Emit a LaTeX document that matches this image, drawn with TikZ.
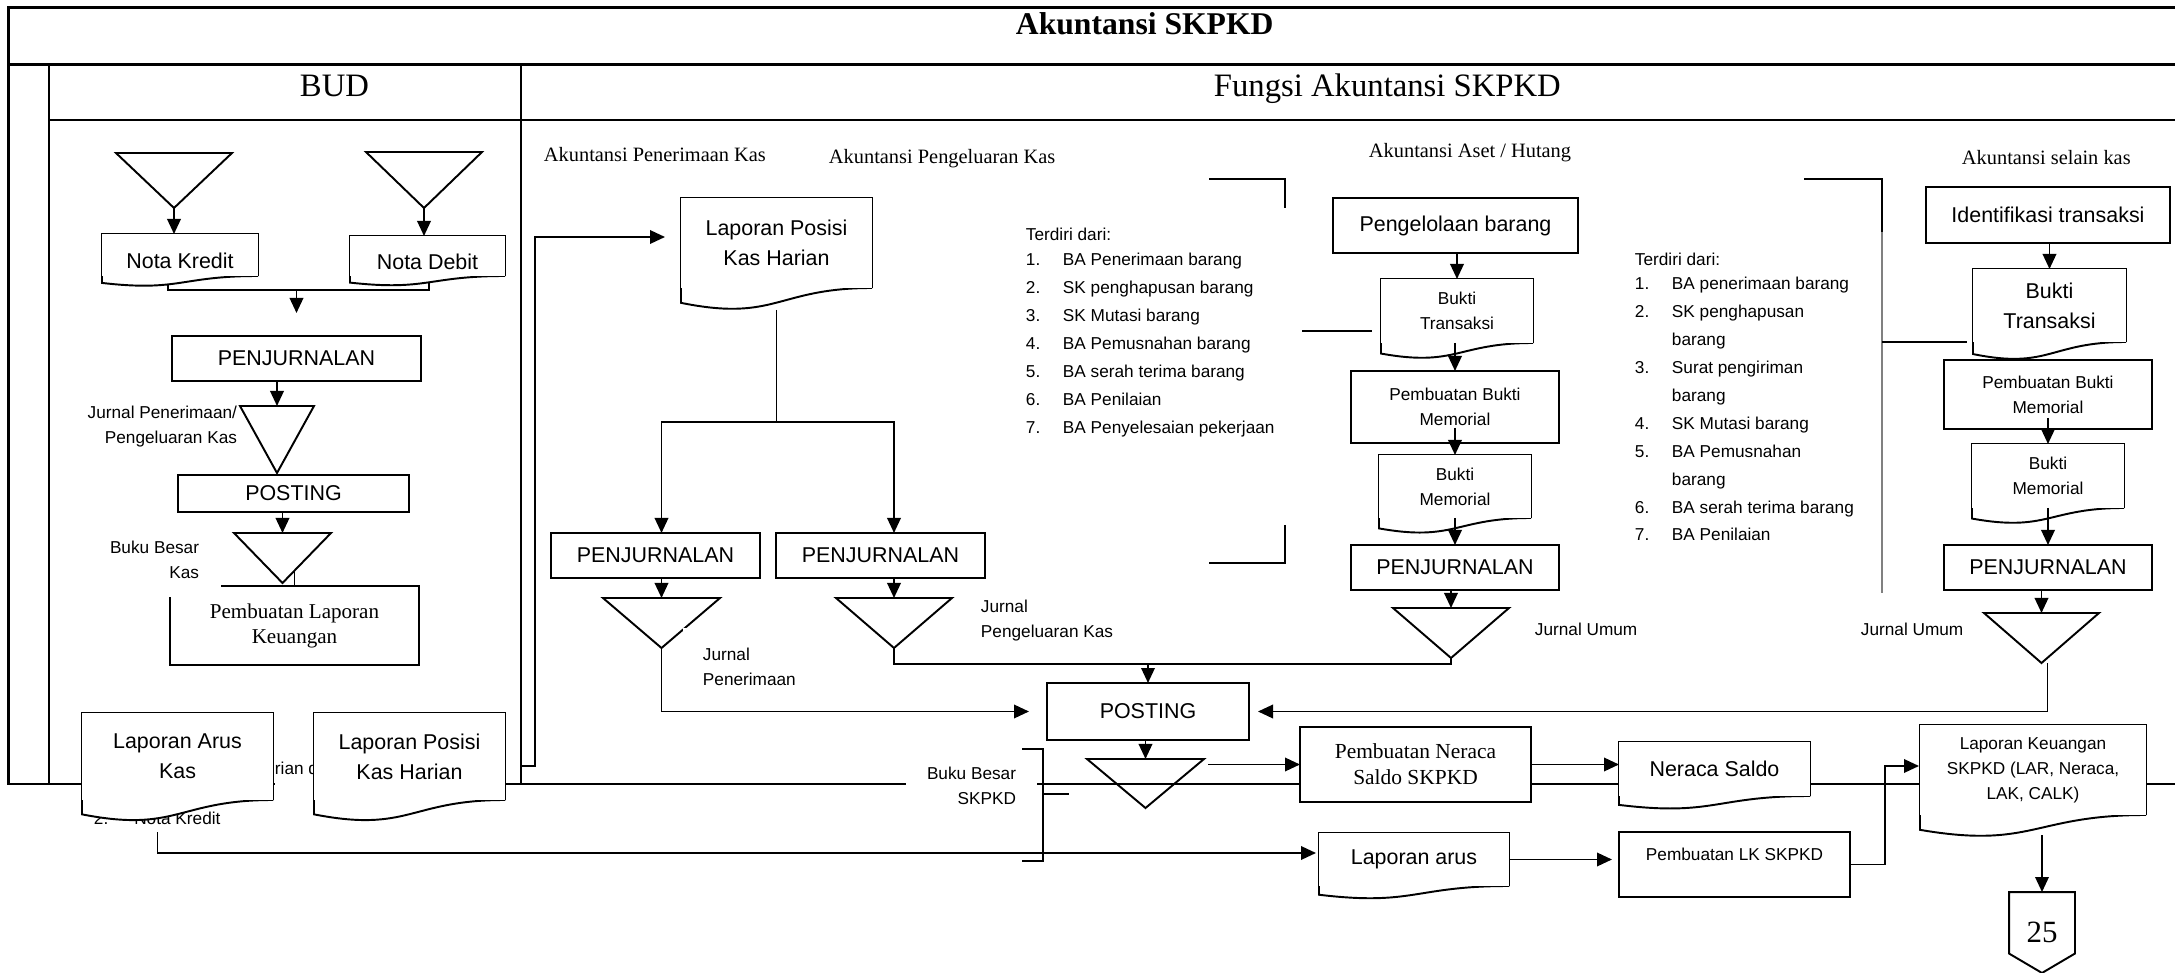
\documentclass[tikz,border=0pt]{standalone}
\usepackage{fontspec}
\setmainfont{Liberation Serif}
\setsansfont{Liberation Sans}
\usetikzlibrary{arrows.meta, calc, shapes.geometric}

\begin{document}
\begin{tikzpicture}[
  every path/.style = {
    line width = 0.55pt
  },
  frame/.style = {
    line width = 0.75pt
  },
  head/.style = {
    inner sep = 0pt,
    anchor = base west
  },
  colhead/.style = {
    head,
    font = \rmfamily\fontsize{5.8}{7}\selectfont
  },
  bigtext/.style = {
    font = \sffamily\fontsize{6.1}{8.5}\selectfont
  },
  smalltext/.style = {
    font = \sffamily\fontsize{4.9}{7.1}\selectfont,
    inner sep = 0pt
  },
  listtext/.style = {
    font = \sffamily\fontsize{4.9}{7.95}\selectfont,
    align = left,
    anchor = north west,
    inner sep = 0pt
  },
  box/.style = {
    draw,
    fill = white,
    align = center,
    inner sep = 0pt,
    outer sep = 0pt
  },
  doc/.style = {
    fill = white,
    align = center,
    inner sep = 0pt,
    outer sep = 0pt,
    append after command = {
      \pgfextra{
        \fill[white] (\tikzlastnode.south west) -- (\tikzlastnode.south east)
          .. controls (\tikzlastnode.south) and ($(\tikzlastnode.south)!-0.38!(\tikzlastnode.north)$)
          .. ($(\tikzlastnode.south west)!-0.165!(\tikzlastnode.north west)$) -- cycle;
        \draw (\tikzlastnode.south east) -- (\tikzlastnode.north east)
          -- (\tikzlastnode.north west)
          -- ($(\tikzlastnode.south west)!-0.165!(\tikzlastnode.north west)$)
          .. controls ($(\tikzlastnode.south)!-0.38!(\tikzlastnode.north)$) and (\tikzlastnode.south)
          .. (\tikzlastnode.south east);
      }
    }
  },
  merge/.style = {
    draw,
    shape = isosceles triangle,
    isosceles triangle stretches,
    shape border rotate = 270,
    inner sep = 0pt,
    outer sep = 0pt,
    anchor = north
  },
  flow/.style = {
    -{Triangle[length = 1.5mm, width = 1.35mm]}
  }
]
  \useasboundingbox (0, 0) rectangle (21.75, -9.73);

  \draw[frame] (21.75, -0.073) -- (0.086, -0.073) -- (0.086, -7.84) -- (21.75, -7.84);
  \draw[frame] (0.086, -0.643) -- (21.75, -0.643);
  \draw[frame] (0.49, -1.2) -- (21.75, -1.2);
  \draw[frame] (0.49, -0.643) -- (0.49, -7.84);
  \draw[frame] (5.21, -0.643) -- (5.21, -7.84);

  \node[head, font = \rmfamily\bfseries\fontsize{9}{11}\selectfont] (judul) at (10.15, -0.35) {Akuntansi SKPKD};
  \node[head, font = \rmfamily\fontsize{9.3}{11}\selectfont] (bud) at (2.99, -0.97) {BUD};
  \node[head, font = \rmfamily\fontsize{9.3}{11}\selectfont] (fungsi) at (12.13, -0.97) {Fungsi Akuntansi SKPKD};
  \node[colhead] (penerimaan) at (5.43, -1.62) {Akuntansi Penerimaan Kas};
  \node[colhead] (pengeluaran) at (8.28, -1.64) {Akuntansi Pengeluaran Kas};
  \node[colhead] (aset) at (13.68, -1.58) {Akuntansi Aset / Hutang};
  \node[colhead] (selain) at (19.61, -1.65) {Akuntansi selain kas};

  \node[merge, minimum width = 1.16cm, minimum height = 0.55cm] (kredittri) at (1.74, -1.53) {};
  \node[merge, minimum width = 1.16cm, minimum height = 0.56cm] (debittri) at (4.24, -1.52) {};
  \node[doc, bigtext, minimum width = 1.56cm, minimum height = 0.42cm, text height = 2.8mm] (kredit) at (1.8, -2.55) {Nota Kredit};
  \node[doc, bigtext, minimum width = 1.55cm, minimum height = 0.4cm, text height = 2.8mm] (debit) at (4.275, -2.56) {Nota Debit};
  \node[box, bigtext, minimum width = 2.49cm, minimum height = 0.45cm] (jurnalbud) at (2.965, -3.585) {PENJURNALAN};
  \node[merge, minimum width = 0.74cm, minimum height = 0.67cm] (jurnaltri) at (2.77, -4.06) {};
  \node[smalltext, align = right, anchor = east] (jurnallabel) at (2.38, -4.265) {Jurnal Penerimaan/\\Pengeluaran Kas};
  \node[box, bigtext, minimum width = 2.31cm, minimum height = 0.37cm] (postingbud) at (2.935, -4.935) {POSTING};
  \node[merge, minimum width = 0.97cm, minimum height = 0.5cm] (kastri) at (2.825, -5.33) {};
  \node[box, font = \rmfamily\fontsize{6}{7.1}\selectfont, minimum width = 2.49cm, minimum height = 0.79cm] (laporanbud) at (2.945, -6.255) {Pembuatan Laporan\\Keuangan};
  \node[smalltext, align = right, anchor = east, fill = white, inner xsep = 2.2mm, inner ysep = 1.9mm] (kaslabel) at (2.22, -5.595) {Buku Besar\\Kas};

  \draw[flow] (kredittri.south) -- (kredittri.south |- kredit.north);
  \draw[flow] (debittri.south) -- (debittri.south |- debit.north);
  \draw ([xshift = -1.2mm, yshift = -0.9mm]kredit.south) -- ++(0, -0.05) -| ([xshift = 0.15mm, yshift = -0.75mm]debit.south);
  \draw[flow] (jurnalbud.north) ++(0, 0.46) -- ++(0, -0.23);
  \draw[flow] (jurnalbud.south -| jurnaltri.north) -- (jurnaltri.north);
  \draw[flow] (postingbud.south -| kastri.north) -- (kastri.north);
  \draw (laporanbud.north) -- ++(0, 0.14);

  \node[smalltext, anchor = west] (kredit2) at (0.93, -8.18) {2.\hspace{2.6mm}Nota Kredit};
  \node[smalltext, anchor = west, fill = white, inner ysep = 1.5mm] (harian) at (2.74, -7.68) {rian d};
  \node[doc, bigtext, minimum width = 1.91cm, minimum height = 0.87cm] (aruskasbud) at (1.775, -7.565) {Laporan Arus\\Kas};
  \node[doc, bigtext, minimum width = 1.91cm, minimum height = 0.87cm] (posisibud) at (4.095, -7.565) {Laporan Posisi\\Kas Harian};

  \node[doc, bigtext, minimum width = 1.91cm, minimum height = 0.9cm] (posisi) at (7.765, -2.43) {Laporan Posisi\\Kas Harian};
  \coordinate (budout) at (5.21, -7.66);
  \coordinate (split) at (7.765, -4.22);
  \draw[flow] (budout) -- ++(0.14, 0) |- ([xshift = -1.6mm, yshift = 0.6mm]posisi.west);

  \node[box, bigtext, minimum width = 2.09cm, minimum height = 0.45cm] (terima) at (6.555, -5.555) {PENJURNALAN};
  \node[box, bigtext, minimum width = 2.09cm, minimum height = 0.45cm] (keluar) at (8.805, -5.555) {PENJURNALAN};
  \node[merge, minimum width = 1.17cm, minimum height = 0.5cm] (terimatri) at (6.615, -5.98) {};
  \node[merge, minimum width = 1.16cm, minimum height = 0.5cm] (keluartri) at (8.94, -5.98) {};
  \node[smalltext, align = left, anchor = north west, fill = white, inner sep = 2mm] (terimalabel) at (6.82, -6.27) {Jurnal\\Penerimaan};
  \node[smalltext, align = left, anchor = west] (keluarlabel) at (9.8, -6.205) {Jurnal\\Pengeluaran Kas};

  \draw ([yshift = -2.2mm]posisi.south) -- (split);
  \draw[flow] (split) -| (terimatri.north |- terima.north);
  \draw[flow] (split) -| (keluartri.north |- keluar.north);
  \draw[flow] (terima.south -| terimatri.north) -- (terimatri.north);
  \draw[flow] (keluar.south -| keluartri.north) -- (keluartri.north);

  \node[listtext] (listaset) at (10.25, -2.27) {Terdiri dari:\\[-0.85pt]
    \makebox[3.7mm][l]{1.}BA Penerimaan barang\\
    \makebox[3.7mm][l]{2.}SK penghapusan barang\\
    \makebox[3.7mm][l]{3.}SK Mutasi barang\\
    \makebox[3.7mm][l]{4.}BA Pemusnahan barang\\
    \makebox[3.7mm][l]{5.}BA serah terima barang\\
    \makebox[3.7mm][l]{6.}BA Penilaian\\
    \makebox[3.7mm][l]{7.}BA Penyelesaian pekerjaan};
  \draw (12.09, -1.79) -- (12.85, -1.79) -- (12.85, -2.08);
  \draw (12.85, -5.25) -- (12.85, -5.63) -- (12.09, -5.63);
  \draw (13.02, -3.31) -- (13.72, -3.31);

  \node[box, bigtext, minimum width = 2.45cm, minimum height = 0.55cm] (kelola) at (14.555, -2.255) {Pengelolaan barang};
  \node[doc, smalltext, minimum width = 1.52cm, minimum height = 0.64cm] (buktiaset) at (14.57, -3.11) {Bukti\\Transaksi};
  \node[box, smalltext, minimum width = 2.08cm, minimum height = 0.72cm] (memoaset) at (14.55, -4.07) {Pembuatan Bukti\\Memorial};
  \node[doc, smalltext, minimum width = 1.52cm, minimum height = 0.63cm] (bmaset) at (14.55, -4.865) {Bukti\\Memorial};
  \node[box, bigtext, minimum width = 2.08cm, minimum height = 0.45cm] (jurnalaset) at (14.55, -5.675) {PENJURNALAN};
  \node[merge, minimum width = 1.16cm, minimum height = 0.5cm] (asettri) at (14.51, -6.08) {};
  \node[smalltext, anchor = west] (umumaset) at (15.34, -6.29) {Jurnal Umum};

  \draw[flow] (kelola.south -| buktiaset.north) -- (buktiaset.north);
  \draw[flow] (buktiaset.south -| memoaset.north) -- (memoaset.north);
  \draw[flow] ([yshift = 1.5mm]memoaset.south) -- (bmaset.north);
  \draw[flow] (bmaset.south) -- (jurnalaset.north);
  \draw[flow] (jurnalaset.south -| asettri.north) -- (asettri.north);

  \node[listtext] (listlain) at (16.34, -2.52) {Terdiri dari:\\[-1.1pt]
    \makebox[3.7mm][l]{1.}BA penerimaan barang\\
    \makebox[3.7mm][l]{2.}SK penghapusan\\
    \makebox[3.7mm][l]{}barang\\
    \makebox[3.7mm][l]{3.}Surat pengiriman\\
    \makebox[3.7mm][l]{}barang\\
    \makebox[3.7mm][l]{4.}SK Mutasi barang\\
    \makebox[3.7mm][l]{5.}BA Pemusnahan\\
    \makebox[3.7mm][l]{}barang\\
    \makebox[3.7mm][l]{6.}BA serah terima barang\\
    \makebox[3.7mm][l]{7.}BA Penilaian};
  \draw (18.04, -1.79) -- (18.82, -1.79) -- (18.82, -2.32);
  \draw[gray, line width = 0.3pt] (18.82, -2.32) -- (18.82, -5.93);
  \draw (18.82, -3.42) -- (19.67, -3.42);

  \node[box, bigtext, minimum width = 2.44cm, minimum height = 0.56cm] (identifikasi) at (20.48, -2.15) {Identifikasi transaksi};
  \node[doc, bigtext, minimum width = 1.53cm, minimum height = 0.73cm] (buktilain) at (20.495, -3.055) {Bukti\\Transaksi};
  \node[box, smalltext, minimum width = 2.08cm, minimum height = 0.69cm] (memolain) at (20.48, -3.945) {Pembuatan Bukti\\Memorial};
  \node[doc, smalltext, minimum width = 1.52cm, minimum height = 0.64cm] (bmlain) at (20.48, -4.76) {Bukti\\Memorial};
  \node[box, bigtext, minimum width = 2.08cm, minimum height = 0.45cm] (jurnallain) at (20.48, -5.675) {PENJURNALAN};
  \node[merge, minimum width = 1.15cm, minimum height = 0.5cm] (laintri) at (20.415, -6.13) {};
  \node[smalltext, anchor = west] (umumlain) at (18.6, -6.29) {Jurnal Umum};

  \draw[flow] (identifikasi.south -| buktilain.north) -- (buktilain.north);
  \draw[flow] ([yshift = 1.1mm]memolain.south) -- (bmlain.north);
  \draw[flow] (bmlain.south) -- (jurnallain.north);
  \draw[flow] (jurnallain.south -| laintri.north) -- (laintri.north);

  \node[box, bigtext, minimum width = 2.02cm, minimum height = 0.57cm] (posting) at (11.48, -7.115) {POSTING};
  \node[merge, minimum width = 1.17cm, minimum height = 0.49cm] (bukubesartri) at (11.455, -7.59) {};
  \node[smalltext, align = right, anchor = east, fill = white, inner xsep = 2.1mm, inner ysep = 1mm] (bukubesarlabel) at (10.38, -7.855) {Buku Besar\\SKPKD};
  \coordinate (jmerge) at (11.48, -6.64);

  \draw (keluartri.south) -- ++(0, -0.16) -| (asettri.south);
  \draw[flow] (jmerge) -- (posting.north);
  \draw[flow] (terimatri.south) |- ([xshift = -1.8mm]posting.west);
  \draw[flow] ([xshift = 0.6mm]laintri.south) |- ([xshift = 0.9mm]posting.east);
  \draw[flow] (posting.south -| bukubesartri.north) -- (bukubesartri.north);
  \draw (10.22, -7.49) -| (10.43, -8.61) -- (10.22, -8.61);
  \draw (10.43, -7.94) -- (10.69, -7.94);

  \node[box, font = \rmfamily\fontsize{6.1}{7.4}\selectfont, minimum width = 2.31cm, minimum height = 0.75cm] (neracabuat) at (14.155, -7.645) {Pembuatan Neraca\\Saldo SKPKD};
  \node[doc, bigtext, minimum width = 1.91cm, minimum height = 0.54cm] (neraca) at (17.145, -7.69) {Neraca Saldo};
  \node[doc, bigtext, minimum width = 1.9cm, minimum height = 0.53cm] (arus) at (14.14, -8.595) {Laporan arus};
  \node[box, smalltext, minimum width = 2.31cm, minimum height = 0.65cm, text depth = 2mm] (lkbuat) at (17.345, -8.645) {Pembuatan LK SKPKD};
  \node[doc, smalltext, minimum width = 2.26cm, minimum height = 0.9cm] (lapkeu) at (20.33, -7.7) {Laporan Keuangan\\SKPKD (LAR, Neraca,\\LAK, CALK)};
  \node[font = \rmfamily\fontsize{8.8}{10}\selectfont, minimum width = 0.64cm, minimum height = 0.79cm, inner sep = 0pt] (hal) at (20.42, -9.325) {25};

  \draw[flow] (neracabuat.west -| 12.08, 0) -- (neracabuat.west);
  \draw[flow] (neracabuat.east) -- (neracabuat.east -| neraca.west);
  \draw[flow] ([xshift = -2mm, yshift = -3.2mm]aruskasbud.south) |- ([xshift = -0.3mm, yshift = 0.65mm]arus.west);
  \draw[flow] (arus.east) -- ([xshift = -0.7mm]arus.east -| lkbuat.west);
  \draw[flow] (lkbuat.east) -- ++(0.35, 0) |- ([xshift = -0.1mm, yshift = 0.4mm]lapkeu.west);
  \draw (hal.north west) -- (hal.north east) -- ($(hal.north east)!0.76!(hal.south east)$) -- (hal.south) -- ($(hal.north west)!0.76!(hal.south west)$) -- cycle;
  \draw[flow] (hal.north) ++(0, 0.57) -- (hal.north);
\end{tikzpicture}
\end{document}
